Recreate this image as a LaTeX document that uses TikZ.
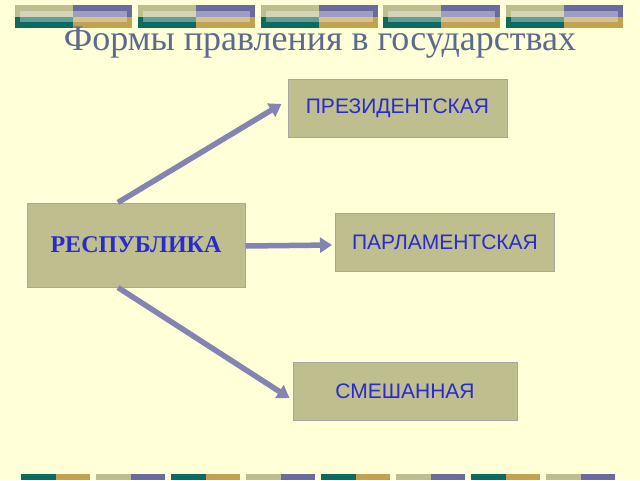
\documentclass[tikz,border=0pt]{standalone}
\usepackage{fontspec}
\setmainfont{Liberation Serif}
\newfontfamily\sansf{Liberation Sans}
\usetikzlibrary{arrows.meta}
\definecolor{bg}{HTML}{FFFFD8}
\definecolor{olv}{HTML}{BDBD8F}
\definecolor{pur}{HTML}{6A6AA0}
\definecolor{tea}{HTML}{0B6B62}
\definecolor{gld}{HTML}{C2A24E}
\definecolor{boxf}{HTML}{BEBE8E}
\definecolor{arr}{HTML}{8484B4}
\definecolor{ttl}{HTML}{5C6A90}
\definecolor{txt}{HTML}{2A2AD0}
\tikzset{x=1pt,y=-1pt,
 formbox/.style={draw=gray!70,line width=1pt,fill=boxf,minimum width=219pt,minimum height=58pt,font=\sansf\fontsize{21}{24}\selectfont,text=txt},
 conn/.style={draw=arr,line width=5.5pt,-{Triangle[length=12pt,width=15pt]}}}
\begin{document}
\begin{tikzpicture}
\fill[bg] (0,0) rectangle (640,480);
\useasboundingbox (0,0) rectangle (640,480);
\foreach \x in {15,138,261,383,506}{
 \fill[olv] (\x,5) rectangle ++(58,11.5);
 \fill[pur] (\x+58,5) rectangle ++(59,11.5);
 \fill[tea] (\x,16.5) rectangle ++(58,11.5);
 \fill[gld] (\x+58,16.5) rectangle ++(59,11.5);
 \fill[white,opacity=0.35] (\x+5,11) rectangle ++(107,11);
}
\foreach \x/\a/\b in {21/tea/gld,96/olv/pur,171/tea/gld,246/olv/pur,321/tea/gld,396/olv/pur,471/tea/gld,546/olv/pur}{
 \fill[\a] (\x,474) rectangle ++(35,6);
 \fill[\b] (\x+35,474) rectangle ++(34,6);
}
\node[text=ttl,font=\fontsize{36}{40}\selectfont] (title) at (320,43) {Формы правления в государствах};
\node[formbox] (pres) at (397.5,108) {ПРЕЗИДЕНТСКАЯ};
\node[formbox] (parl) at (445,242) {ПАРЛАМЕНТСКАЯ};
\node[formbox,minimum width=224pt] (mix) at (405,391) {СМЕШАННАЯ};
\node[formbox,minimum width=218pt,minimum height=84pt,font=\bfseries\fontsize{24}{28}\selectfont] (rep) at (136,245) {РЕСПУБЛИКА};
\draw[conn] ([xshift=-18pt]rep.north) -- ([xshift=-6pt,yshift=4pt]pres.west);
\draw[conn] ([yshift=-1pt]rep.east) -- ([xshift=-3pt]rep.east -| parl.west);
\draw[conn] ([xshift=-18pt]rep.south) -- ([xshift=-3pt,yshift=-7pt]mix.west);
\end{tikzpicture}
\end{document}
